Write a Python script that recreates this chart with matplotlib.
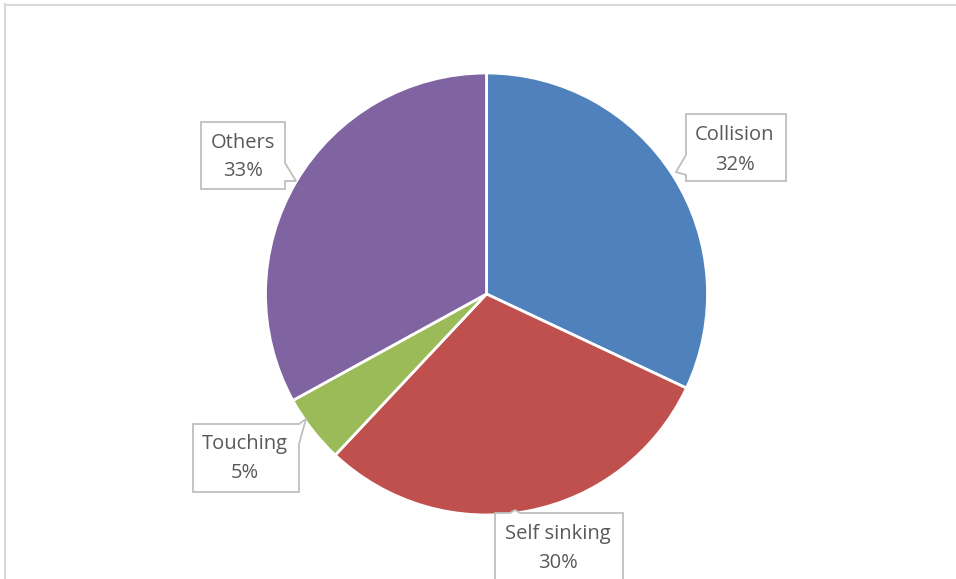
import matplotlib.pyplot as plt
from matplotlib.patches import Polygon

# share of accidents by cause
causes = ['Collision', 'Self sinking', 'Touching', 'Others']
shares = [32, 30, 5, 33]
colors = ['#4F81BD', '#C0504D', '#9BBB59', '#8064A2']

W, H = 956, 579
fig = plt.figure(figsize=(W / 100, H / 100), dpi=100)
ax = fig.add_axes([0, 0, 1, 1])

def fy(y):
    # pixel row (from top) -> data y
    return H - y

ax.pie(shares, colors=colors, startangle=90, counterclock=False,
       center=(486.5, fy(294)), radius=221, frame=True,
       wedgeprops=dict(edgecolor='white', linewidth=2))

# chart area border (only top and left visible)
ax.plot([5, W], [fy(4.5), fy(4.5)], color='#d9d9d9', lw=1.5)
ax.plot([5.5, 5.5], [fy(4), 0], color='#d9d9d9', lw=1.5)

# callout boxes: outline points in pixel coords, text centre
callouts = {
    'Collision': ([(686, 114), (786, 114), (786, 181), (686, 181), (686, 175),
                   (676, 172), (686, 155)], (735, 150)),
    'Others': ([(201, 122), (285, 122), (285, 163), (296, 181), (285, 181),
                (285, 189), (201, 189)], (243, 157)),
    'Touching': ([(193, 424), (299, 424), (306, 419), (299, 444),
                  (299, 492), (193, 492)], (245, 458)),
    'Self sinking': ([(495, 513), (510, 513), (515, 510), (520, 513),
                      (623, 513), (623, 590), (495, 590)], (558, 548)),
}

for name, val in zip(causes, shares):
    pts, (tx, ty) = callouts[name]
    poly = Polygon([(x, fy(y)) for x, y in pts], closed=True,
                   facecolor='white', edgecolor='#bfbfbf', lw=1.3)
    ax.add_patch(poly)
    ax.text(tx, fy(ty), '%s\n%d%%' % (name, val), ha='center', va='center',
            fontsize=14.5, color='#595959', family='Open Sans',
            linespacing=1.6)

ax.set_xlim(0, W)
ax.set_ylim(0, H)
ax.axis('off')

fig.savefig('out.png', dpi=100)
